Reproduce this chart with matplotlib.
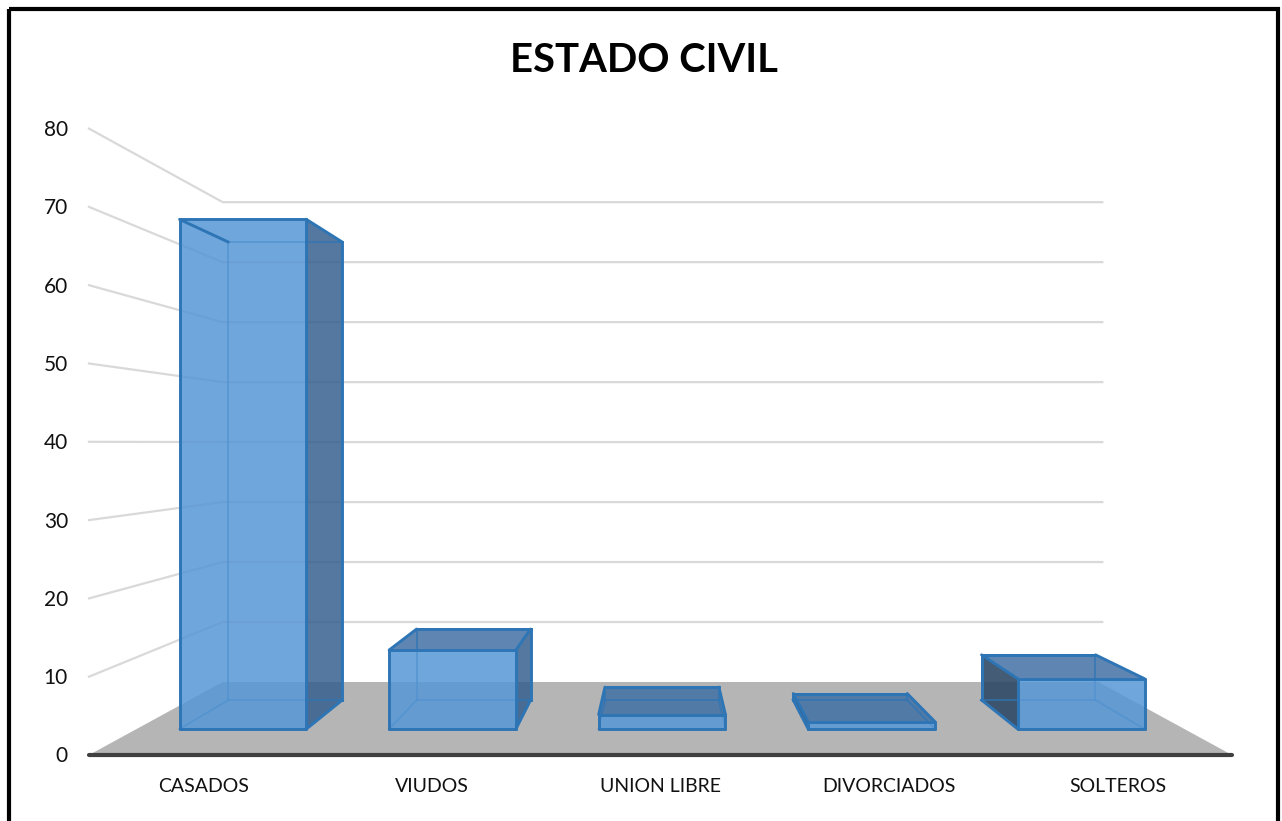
import matplotlib
matplotlib.use('Agg')
import matplotlib.pyplot as plt
from matplotlib.patches import Polygon, Rectangle

categories = ['CASADOS', 'VIUDOS', 'UNION LIBRE', 'DIVORCIADOS', 'SOLTEROS']
values = [71, 11, 2, 1, 7]
ticks = [0, 10, 20, 30, 40, 50, 60, 70, 80]
title = 'ESTADO CIVIL'

# perspective of the excel 3d chart, in pixels of the picture
VP_X, VP_Y = 660.5, 443
LEFT, RIGHT, FLOOR = 89, 1232, 755
UNIT = 7.83
CAT_W = (RIGHT - LEFT) / len(categories)
S_BACK = 0.766
S_BAR_FRONT = 0.9167
S_BAR_BACK = 0.8237
BAR_OFF, BAR_W = 0.205, 0.605


def project(cat, val, s):
    x = VP_X + (LEFT + cat * CAT_W - VP_X) * s
    y = VP_Y + (FLOOR - VP_Y) * s - val * UNIT * s
    return (x, y)


plt.rcParams['font.family'] = ['Lato', 'DejaVu Sans']
fig = plt.figure(figsize=(12.82, 8.21), dpi=100)
ax = fig.add_axes([0, 0, 1, 1])
ax.set_xlim(0, 1282)
ax.set_ylim(821, 0)
ax.axis('off')

n = len(categories)

# floor
floor = [project(0, 0, 1), project(n, 0, 1), project(n, 0, S_BACK), project(0, 0, S_BACK)]
ax.add_patch(Polygon(floor, closed=True, fc='#b5b5b5', ec='none', zorder=1))

# gridlines on the side wall and back wall
for t in ticks[1:]:
    a = project(0, t, 1)
    b = project(0, t, S_BACK)
    c = project(n, t, S_BACK)
    ax.plot([a[0], b[0], c[0] + 4], [a[1], b[1], c[1]], color='#d9d9d9', lw=1.6, zorder=2,
            solid_joinstyle='miter')

# axis line
ax.plot([LEFT, RIGHT], [FLOOR, FLOOR], color='#404040', lw=3, solid_capstyle='round', zorder=3)

# bars
EDGE = '#2e75b6'
for i, v in enumerate(values):
    x0 = i + BAR_OFF
    x1 = x0 + BAR_W
    fl0 = project(x0, 0, S_BAR_FRONT)
    fr0 = project(x1, 0, S_BAR_FRONT)
    fr1 = project(x1, v, S_BAR_FRONT)
    fl1 = project(x0, v, S_BAR_FRONT)
    bl0 = project(x0, 0, S_BAR_BACK)
    br0 = project(x1, 0, S_BAR_BACK)
    br1 = project(x1, v, S_BAR_BACK)
    bl1 = project(x0, v, S_BAR_BACK)

    if bl0[0] < fl0[0]:
        ax.add_patch(Polygon([fl0, fl1, bl1, bl0], fc='#2f4a66', ec='none', alpha=0.9, zorder=5))
    if br0[0] > fr0[0]:
        ax.add_patch(Polygon([fr0, fr1, br1, br0], fc='#325d8d', ec='none', alpha=0.83, zorder=5))
    if bl1[1] < fl1[1]:
        ax.add_patch(Polygon([fl1, fr1, br1, bl1], fc='#3e6ea3', ec='none', alpha=0.83, zorder=5))

    # inner edges show through the glassy faces
    for p, q in [(bl0, br0), (br0, br1), (br1, bl1), (bl1, bl0), (fl0, bl0), (fr0, br0)]:
        ax.plot([p[0], q[0]], [p[1], q[1]], color=EDGE, lw=1.4, alpha=0.7, zorder=6)

    ax.add_patch(Polygon([fl0, fr0, fr1, fl1], fc='#5797d5', ec='none', alpha=0.855, zorder=7))

    # outer edges
    for p, q in [(fl0, fr0), (fr0, fr1), (fr1, fl1), (fl1, fl0), (fl1, bl1), (fr1, br1)]:
        ax.plot([p[0], q[0]], [p[1], q[1]], color=EDGE, lw=2.1, zorder=8, solid_capstyle='round')
    if bl0[0] < fl0[0]:
        for p, q in [(bl0, bl1), (bl0, fl0), (bl1, br1)]:
            ax.plot([p[0], q[0]], [p[1], q[1]], color=EDGE, lw=2.1, zorder=8)
    if br0[0] > fr0[0]:
        for p, q in [(br0, br1), (br0, fr0)]:
            ax.plot([p[0], q[0]], [p[1], q[1]], color=EDGE, lw=2.1, zorder=8)
    if bl1[1] < fl1[1]:
        ax.plot([bl1[0], br1[0]], [bl1[1], br1[1]], color=EDGE, lw=2.1, zorder=8)

# texts
for t in ticks:
    ax.text(LEFT - 21, project(0, t, 1)[1] + 1.5, str(t), ha='right', va='center', fontsize=15,
            color='#111111', zorder=9)
for i, c in enumerate(categories):
    ax.text(LEFT + (i + 0.5) * CAT_W, 786, c, ha='center', va='center', fontsize=14,
            color='#111111', zorder=9)
ax.text(644, 61, title, ha='center', va='center', fontsize=28.8, fontweight='bold', color='black', zorder=9)

# frame of the picture, open at the bottom
ax.add_patch(Rectangle((9, 9.5), 1269, 830, fc='none', ec='black', lw=3, zorder=10, clip_on=True))

fig.savefig('out.png', dpi=100)
